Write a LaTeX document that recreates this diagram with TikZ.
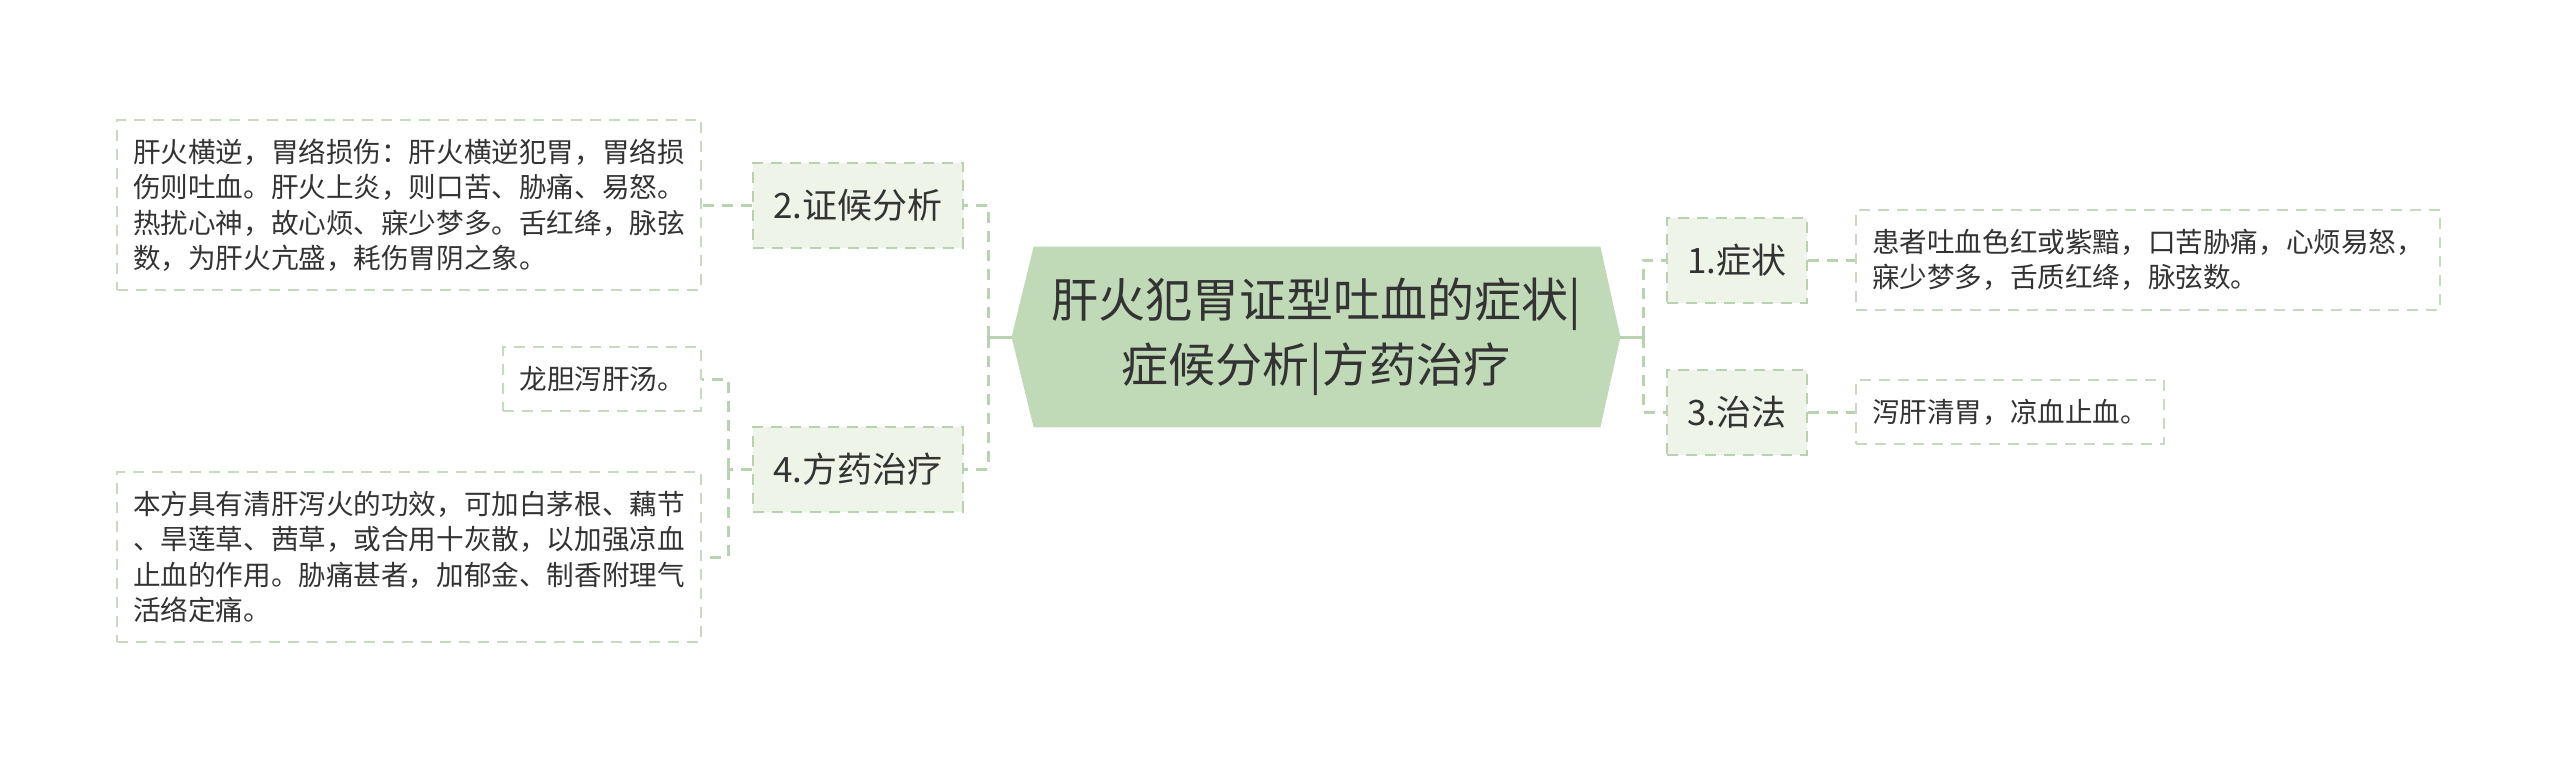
\documentclass[tikz,border=0pt]{standalone}
\usepackage{fontspec}
\newfontfamily\cjk{Noto Sans CJK SC}
\usetikzlibrary{calc,backgrounds}
\definecolor{centerfill}{HTML}{C0DAB8}
\definecolor{childfill}{HTML}{EEF5E8}
\definecolor{childborder}{HTML}{B9D1B0}
\definecolor{leafborder}{HTML}{C9D8C3}
\definecolor{linkcol}{HTML}{B9D3B0}
\definecolor{txt}{HTML}{333333}
\begin{document}
\begin{tikzpicture}[x=0.5pt,y=-0.5pt,
  dsh/.style={dash pattern=on 5.5pt off 4pt},
  centerbox/.style={font=\cjk\fontsize{23.5}{32.5}\selectfont, text=txt, align=center, minimum width=304pt, minimum height=90pt, inner sep=0pt},
  childbox/.style={draw=childborder, dsh, line width=1pt, fill=childfill, font=\cjk\fontsize{17.5}{21}\selectfont, text=txt, minimum height=42.5pt, inner xsep=10pt},
  leafbox/.style={draw=leafborder, dsh, line width=1pt, fill=white, font=\cjk\fontsize{13.8}{17.7}\selectfont, text=txt, align=left, inner xsep=8pt, inner ysep=9.5pt},
  solidlink/.style={draw=linkcol, line width=1.5pt},
  dashlink/.style={draw=linkcol, line width=1.5pt, dsh}]
\useasboundingbox (0,0) rectangle (2560,762);
% central
\node[centerbox] (c) at (1316,337) {肝火犯胃证型吐血的症状|\\症候分析|方药治疗};
\begin{scope}[on background layer]
\fill[centerfill] (c.west) -- ($(c.north west)+(22,0)$) -- ($(c.north east)+(-20,0)$) -- (c.east) -- ($(c.south east)+(-20,0)$) -- ($(c.south west)+(22,0)$) -- cycle;
\end{scope}
% children
\node[childbox] (n2) at (858,205) {2.证候分析};
\node[childbox] (n4) at (858,469) {4.方药治疗};
\node[childbox] (n1) at (1737,260) {1.症状};
\node[childbox] (n3) at (1737,412) {3.治法};
% leaves
\node[leafbox, anchor=east] (l2) at (702,205) {肝火横逆，胃络损伤：肝火横逆犯胃，胃络损\\伤则吐血。肝火上炎，则口苦、胁痛、易怒。\\热扰心神，故心烦、寐少梦多。舌红绛，脉弦\\数，为肝火亢盛，耗伤胃阴之象。};
\node[leafbox, anchor=east] (l4a) at (702,379) {龙胆泻肝汤。};
\node[leafbox, anchor=east] (l4b) at (702,557) {本方具有清肝泻火的功效，可加白茅根、藕节\\、旱莲草、茜草，或合用十灰散，以加强凉血\\止血的作用。胁痛甚者，加郁金、制香附理气\\活络定痛。};
\node[leafbox, anchor=west] (l1) at (1855,260) {患者吐血色红或紫黯，口苦胁痛，心烦易怒，\\寐少梦多，舌质红绛，脉弦数。};
\node[leafbox, anchor=west] (l3) at (1855,412) {泻肝清胃，凉血止血。};
% connectors
\coordinate (ls) at (988,337);
\coordinate (rs) at (1643,337);
\coordinate (ls4) at (728,469);
\draw[solidlink] (c.west) -- (ls);
\draw[dashlink] (ls) |- (n2.east);
\draw[dashlink] (ls) |- (n4.east);
\draw[solidlink] (c.east) -- (rs);
\draw[dashlink] (rs) |- (n1.west);
\draw[dashlink] (rs) |- (n3.west);
\draw[dashlink] (n2.west) -- (l2.east);
\draw[dashlink] (n4.west) -- (ls4);
\draw[dashlink] (ls4) |- (l4a.east);
\draw[dashlink] (ls4) |- (l4b.east);
\draw[dashlink] (n1.east) -- (l1.west);
\draw[dashlink] (n3.east) -- (l3.west);
\end{tikzpicture}
\end{document}
